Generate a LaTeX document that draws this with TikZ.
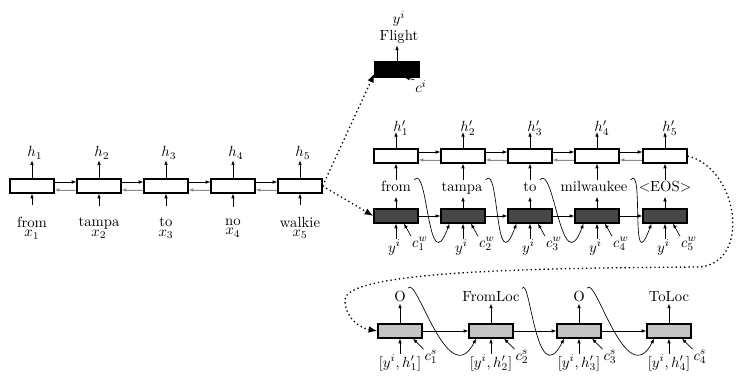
\documentclass[tikz,border=0pt]{standalone}
\usetikzlibrary{arrows.meta,calc}
\definecolor{deccell}{HTML}{474747}
\definecolor{slotfill}{HTML}{C4C4C4}
\tikzset{
  cell/.style={draw=black, line width=0.8pt, minimum width=29.9pt, minimum height=9.5pt, inner sep=0pt, fill=white},
  darkcell/.style={cell, fill=deccell},
  slotcell/.style={cell, fill=slotfill},
  intentcell/.style={cell, fill=black, minimum height=10.2pt},
  arr/.style={-{Latex[length=3.2pt,width=2.4pt]}, line width=0.45pt},
  backarr/.style={arr, draw=black!45, fill=black!45},
  dotarr/.style={dotted, line width=0.9pt, -{Latex[length=6pt,width=4.5pt]}},
  lab/.style={inner sep=0.5pt, anchor=base},
  word/.style={anchor=base, inner xsep=2pt, inner ysep=1pt, text height=7pt, text depth=2pt},
  inword/.style={align=center, inner sep=1pt},
  toplab/.style={anchor=base, inner sep=1.5pt, text depth=0pt},
}
\begin{document}
\begin{tikzpicture}[x=0.68pt,y=-0.68pt]
\useasboundingbox (0,0) rectangle (737,376);

% ---------- encoder (bidirectional) ----------
\foreach \i/\x/\w in {1/32/from,2/99/tampa,3/166/to,4/233/no,5/300/walkie}{
  \node[cell] (e\i) at (\x,186) {};
  \node[inword] (ew\i) at (\x,228) {\w\\[-5.5pt]$x_\i$};
  \node[lab] (eh\i) at (\x+3,157) {$h_\i$};
  \draw[arr] (e\i.north) -- (e\i.north |- eh\i.south);
  \draw[arr, shorten <=6.8pt] (e\i.south |- ew\i.north) -- (e\i.south);
}
\foreach \a/\b in {1/2,2/3,3/4,4/5}{
  \draw[arr] ([yshift=2.7pt]e\a.east) -- ([yshift=2.7pt]e\b.west);
  \draw[backarr] ([yshift=-2.7pt]e\b.west) -- ([yshift=-2.7pt]e\a.east);
}

% ---------- intent output ----------
\node[intentcell] (fl) at (397,69.5) {};
\node[inword] (flw) at (399,27.5) {$y^i$\\[-0.4pt]Flight};
\node[lab] (fc) at (421,93) {$c^i$};
\draw[arr] (fl.north) -- (fl.north |- flw.south);
\draw[arr] (fc.north west) -- ([xshift=5.4pt]fl.south);

% ---------- word decoder ----------
\foreach \i/\x/\wx/\w in {1/396/396/from,2/463/462/tampa,3/530/530/to,4/597/594/milwaukee,5/665/665/\textless EOS\textgreater}{
  \node[cell] (p\i) at (\x,156) {};
  \node[lab] (ph\i) at (\x+5,132) {$h'_\i$};
  \node[darkcell] (d\i) at (\x,216) {};
  \node[word] (dw\i) at (\wx,192) {\w};
  \node[lab] (dy\i) at (\x-1.5,252) {$y^i$};
  \node[lab] (dc\i) at (\x+24,247) {$c^w_\i$};
  \draw[arr] (p\i.north) -- (p\i.north |- ph\i.base);
  \draw[arr] (d\i.north) -- (d\i.north |- dw\i.south);
  \draw[arr] (p\i.south |- dw\i.north) -- (p\i.south);
  \draw[arr] (d\i.south |- dy\i.north) -- (d\i.south);
  \draw[arr] (dc\i.north west) -- ([xshift=5.4pt]d\i.south);
}
\foreach \a/\b in {1/2,2/3,3/4,4/5}{
  \draw[arr] ([yshift=2.7pt]p\a.east) -- ([yshift=2.7pt]p\b.west);
  \draw[backarr] ([yshift=-2.7pt]p\b.west) -- ([yshift=-2.7pt]p\a.east);
  \draw[arr] (d\a.east) -- (d\b.west);
  % generated word fed back as the next input
  \draw[arr] (dw\a.north east) .. controls +(14,-18) and +(-22,60) ..
    ($(d\b.south west)!0.2!(d\b.south east)$);
}

% ---------- slot decoder ----------
\foreach \i/\x/\t in {1/400/O,2/491/FromLoc,3/579/O,4/669/ToLoc}{
  \node[slotcell] (s\i) at (\x,331) {};
  \node[toplab] (sl\i) at (\x,301) {\t};
  \node[lab] (sy\i) at (\x,367) {$[y^i,h'_\i]$};
  \node[lab] (sc\i) at (\x+31,360) {$c^s_\i$};
  \draw[arr] (s\i.north) -- (s\i.north |- sl\i.south);
  \draw[arr] (s\i.south |- sy\i.north) -- (s\i.south);
  \draw[arr] (sc\i.north west) -- ([xshift=8.8pt]s\i.south);
}
\foreach \a/\b in {1/2,2/3,3/4}{
  \draw[arr] (s\a.east) -- (s\b.west);
  \draw[arr] (sl\a.north east) .. controls +(8,-14) and +(-28,55) ..
    ($(s\b.south west)!0.17!(s\b.south east)$);
}

% ---------- hand-over between the networks ----------
\draw[dotarr] (e5.east) -- ($(fl.west)!0.5!(fl.south west)$);
\draw[dotarr] (e5.east) -- (d1.west);
\draw[dotarr] (p5.east) .. controls (738,168) and (752,262) .. (700,267)
  .. controls (520,268) and (345,272) .. (345,300)
  .. controls (345,318) and (360,328) .. (s1.west);
\end{tikzpicture}
\end{document}
